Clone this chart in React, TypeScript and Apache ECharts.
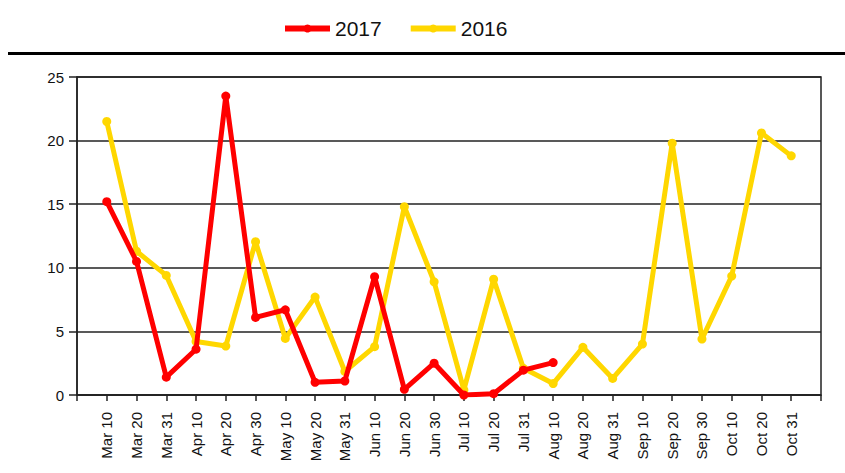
import React, { useEffect, useRef } from "react";
import * as echarts from "echarts";

const categories = [
  "Mar 10", "Mar 20", "Mar 31", "Apr 10", "Apr 20", "Apr 30",
  "May 10", "May 20", "May 31", "Jun 10", "Jun 20", "Jun 30",
  "Jul 10", "Jul 20", "Jul 31", "Aug 10", "Aug 20", "Aug 31",
  "Sep 10", "Sep 20", "Sep 30", "Oct 10", "Oct 20", "Oct 31",
];

const values2017 = [
  15.2, 10.5, 1.4, 3.6, 23.5, 6.1, 6.7, 1.0, 1.1, 9.3, 0.45, 2.5,
  0.0, 0.1, 1.95, 2.55,
];

const values2016 = [
  21.5, 11.3, 9.4, 4.2, 3.85, 12.05, 4.45, 7.7, 1.85, 3.8, 14.8, 8.9,
  0.4, 9.1, 2.1, 0.9, 3.75, 1.3, 4.0, 19.8, 4.4, 9.35, 20.6, 18.8,
];

const yTicks = { min: 0, max: 25, interval: 5 };

const pad = (vals: number[]) => {
  const out: (number | string)[] = ["-"];
  for (let i = 0; i < categories.length; i++) {
    out.push(i < vals.length ? vals[i] : "-");
  }
  out.push("-");
  return out;
};

export default function App() {
  const ref = useRef<HTMLDivElement>(null);
  useEffect(() => {
    if (!ref.current) return;
    const chart = echarts.init(ref.current, null, { renderer: "svg" });
    const font = "'Liberation Sans', Arial, sans-serif";
    chart.setOption({
      animation: false,
      backgroundColor: "#ffffff",
      textStyle: { fontFamily: font },
      legend: {
        data: ["2017", "2016"],
        left: 277,
        top: 13,
        itemWidth: 45,
        itemHeight: 10,
        itemGap: 26,
        lineStyle: { width: 6 },
        textStyle: { fontSize: 21, color: "#111", fontFamily: font },
      },
      graphic: [
        {
          type: "rect",
          shape: { x: 8, y: 52, width: 837, height: 3 },
          style: { fill: "#000" },
        },
      ],
      grid: {
        left: 77,
        right: 24,
        top: 77,
        bottom: 78,
        show: true,
        borderColor: "#222",
        borderWidth: 1.5,
      },
      xAxis: {
        type: "category",
        boundaryGap: false,
        data: ["", ...categories, ""],
        axisLine: { show: true, lineStyle: { color: "#222", width: 1.5 } },
        axisTick: { show: true, interval: 0, length: 6, lineStyle: { color: "#222", width: 1.5 } },
        axisLabel: {
          interval: 0,
          rotate: 90,
          margin: 17,
          fontSize: 15,
          color: "#111",
          fontFamily: font,
        },
        splitLine: { show: false },
      },
      yAxis: {
        type: "value",
        min: yTicks.min,
        max: yTicks.max,
        interval: yTicks.interval,
        axisLine: { show: true, lineStyle: { color: "#222", width: 1.5 } },
        axisTick: { show: true, length: 8, lineStyle: { color: "#222", width: 1.5 } },
        axisLabel: { fontSize: 15, color: "#111", margin: 13, fontFamily: font },
        splitLine: { show: true, lineStyle: { color: "#222", width: 1.5 } },
      },
      series: [
        {
          name: "2016",
          type: "line",
          data: pad(values2016),
          symbol: "circle",
          symbolSize: 9,
          color: "#FFD700",
          lineStyle: { width: 5, color: "#FFD700" },
          itemStyle: { color: "#FFD700" },
          z: 2,
        },
        {
          name: "2017",
          type: "line",
          data: pad(values2017),
          symbol: "circle",
          symbolSize: 9,
          color: "#FF0000",
          lineStyle: { width: 5, color: "#FF0000" },
          itemStyle: { color: "#FF0000" },
          z: 3,
        },
      ],
    });
    return () => chart.dispose();
  }, []);
  return (
    <div
      ref={ref}
      style={{ position: "absolute", left: 0, top: 0, width: 845, height: 473 }}
    />
  );
}
